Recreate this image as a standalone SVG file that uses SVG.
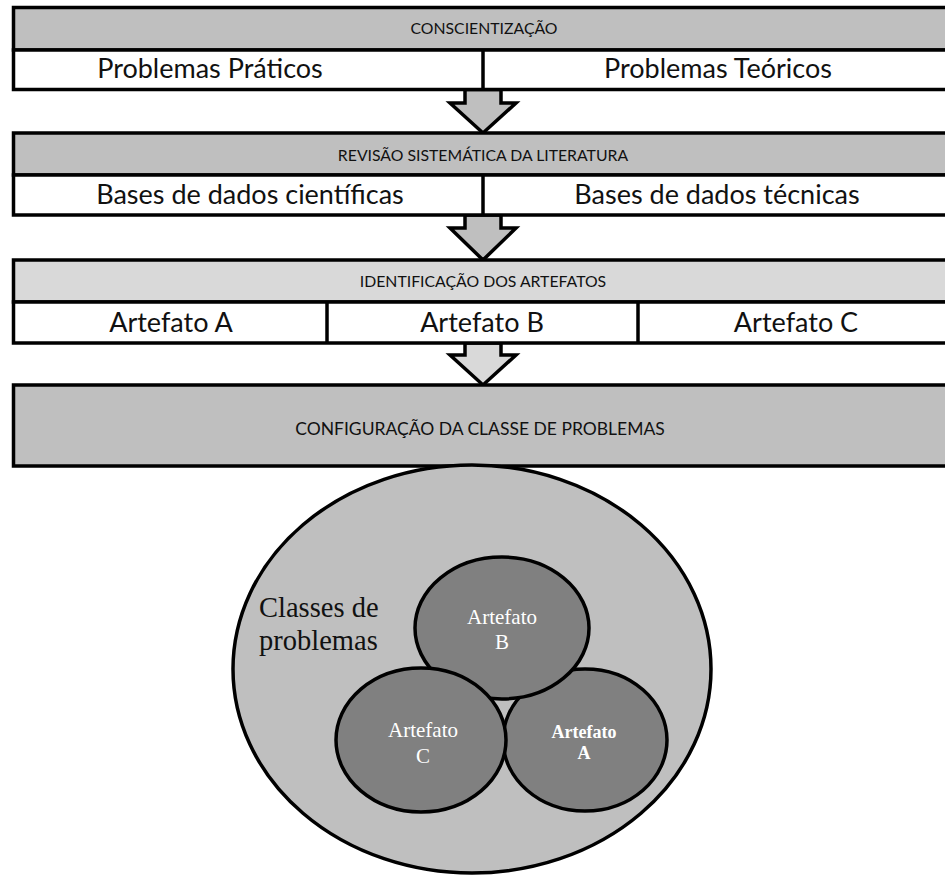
<svg xmlns="http://www.w3.org/2000/svg" width="945" height="875" viewBox="0 0 945 875">
<style>
.box{stroke:#000;stroke-width:3.5;}
.hdr{fill:#bfbfbf;}
.hdr2{fill:#d9d9d9;}
.row{fill:#fff;}
.div{stroke:#000;stroke-width:3.5;}
.arrow{stroke:#000;stroke-width:3.5;stroke-linejoin:miter;}
.ht{font-family:Lato,"Open Sans",sans-serif;font-size:15.8px;fill:#111;text-anchor:middle;}
.rt{font-family:Lato,"Open Sans",sans-serif;font-size:27px;fill:#111;text-anchor:middle;}
.cls{fill:#808080;stroke:#000;stroke-width:3.5;}
.st{font-family:"Liberation Serif","Times New Roman",serif;font-size:21px;fill:#fff;text-anchor:middle;}
.sb{font-family:"Liberation Serif","Times New Roman",serif;font-size:18px;font-weight:bold;fill:#fff;text-anchor:middle;}
.lt{font-family:"Liberation Serif","Times New Roman",serif;font-size:28.5px;fill:#111;}
</style>
<rect width="945" height="875" fill="#fff"/>
<g id="connectors">
<polygon class="arrow hdr" points="465,89.5 501,89.5 501,103 516,103 483,133 450,103 465,103"/>
<polygon class="arrow hdr" points="465,215 501,215 501,228 516,228 483,260 450,228 465,228"/>
<polygon class="arrow hdr2" points="465,343 501,343 501,355 516,355 483,385 450,355 465,355"/>
</g>
<g id="conscientizacao">
<rect class="box hdr" x="13.5" y="7.5" width="950" height="42.5"/>
<rect class="box row" x="13.5" y="50" width="950" height="39.5"/>
<line class="div" x1="483" y1="50" x2="483" y2="89.5"/>
<text class="ht" x="484" y="34">CONSCIENTIZAÇÃO</text>
<text class="rt" x="210" y="78">Problemas Práticos</text>
<text class="rt" x="718" y="78">Problemas Teóricos</text>
</g>
<g id="revisao">
<rect class="box hdr" x="13.5" y="133" width="950" height="42"/>
<rect class="box row" x="13.5" y="175" width="950" height="40"/>
<line class="div" x1="483" y1="175" x2="483" y2="215"/>
<text class="ht" x="483" y="161">REVISÃO SISTEMÁTICA DA LITERATURA</text>
<text class="rt" x="250" y="204">Bases de dados científicas</text>
<text class="rt" x="717" y="204">Bases de dados técnicas</text>
</g>
<g id="identificacao">
<rect class="box hdr2" x="13.5" y="260" width="950" height="42"/>
<rect class="box row" x="13.5" y="302" width="950" height="41"/>
<line class="div" x1="327" y1="302" x2="327" y2="343"/>
<line class="div" x1="638" y1="302" x2="638" y2="343"/>
<text class="ht" x="483" y="287">IDENTIFICAÇÃO DOS ARTEFATOS</text>
<text class="rt" x="171" y="332">Artefato A</text>
<text class="rt" x="482" y="332">Artefato B</text>
<text class="rt" x="796" y="332">Artefato C</text>
</g>
<g id="configuracao">
<rect class="box hdr" x="13.5" y="385" width="950" height="81"/>
<text class="ht" x="480" y="435" style="font-size:17.5px">CONFIGURAÇÃO DA CLASSE DE PROBLEMAS</text>
</g>
<g id="classes">
<ellipse cx="472" cy="669" rx="239" ry="204" fill="#bfbfbf" stroke="#000" stroke-width="3.5"/>
<text class="lt" x="259" y="617">Classes de</text>
<text class="lt" x="259" y="650">problemas</text>
</g>
<g id="artefatoA">
<ellipse class="cls" cx="585" cy="740" rx="82" ry="71"/>
<text class="sb" x="584" y="738">Artefato</text>
<text class="sb" x="584" y="759">A</text>
</g>
<g id="artefatoB">
<ellipse class="cls" cx="502" cy="628" rx="87" ry="71"/>
<text class="st" x="502" y="624">Artefato</text>
<text class="st" x="502" y="649">B</text>
</g>
<g id="artefatoC">
<ellipse class="cls" cx="421" cy="740" rx="85" ry="72"/>
<text class="st" x="423" y="737">Artefato</text>
<text class="st" x="423" y="763">C</text>
</g>
</svg>
